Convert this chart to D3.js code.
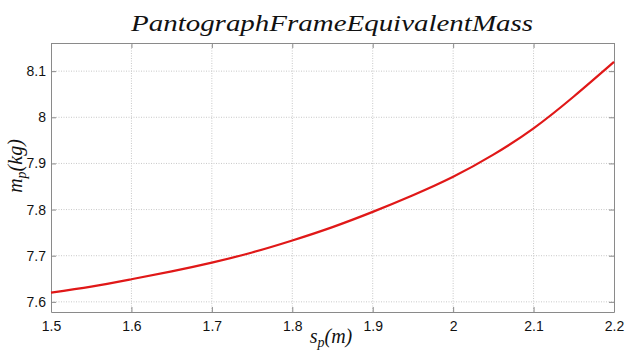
<!DOCTYPE html>
<html lang="en">
<head>
    <meta charset="UTF-8">
    <script src="https://cdn.jsdelivr.net/npm/d3@7"></script>
    <title>Pantograph Frame Equivalent Mass</title>
    <style>
        body { margin: 0; background: #fff; }
        .tick text { font-family: "Liberation Sans", Arial, sans-serif; font-size: 14px; fill: #111; }
        .latex { font-family: "Liberation Serif", "Times New Roman", serif; font-style: italic; fill: #111; }
    </style>
</head>
<body>
    <div id="chart"></div>
    <script>
        // values
        const spValues = [1.50, 1.55, 1.60, 1.65, 1.70, 1.75, 1.80, 1.85, 1.90, 1.95, 2.00, 2.05, 2.10, 2.15, 2.20];
        const mpValues = [7.620, 7.633, 7.649, 7.666, 7.685, 7.707, 7.733, 7.762, 7.795, 7.831, 7.871, 7.919, 7.976, 8.045, 8.120];
        const xTicks = [1.5, 1.6, 1.7, 1.8, 1.9, 2.0, 2.1, 2.2];
        const yTicks = [7.6, 7.7, 7.8, 7.9, 8.0, 8.1];

        const width = 625, height = 351;
        const margin = { top: 43, right: 11, bottom: 39, left: 51 };
        const innerW = width - margin.left - margin.right;
        const innerH = height - margin.top - margin.bottom;

        const svg = d3.select("#chart").append("svg")
            .attr("width", width)
            .attr("height", height);

        const g = svg.append("g")
            .attr("transform", `translate(${margin.left},${margin.top})`);

        const x = d3.scaleLinear().domain([1.5, 2.2]).range([0, innerW]);
        const y = d3.scaleLinear().domain([7.578, 8.161]).range([innerH, 0]);

        // grid
        g.append("g").selectAll("line")
            .data(xTicks.slice(1, -1))
            .enter().append("line")
            .attr("x1", d => x(d)).attr("x2", d => x(d))
            .attr("y1", 0).attr("y2", innerH)
            .attr("stroke", "#c8c8c8").attr("stroke-dasharray", "1,1.5");
        g.append("g").selectAll("line")
            .data(yTicks)
            .enter().append("line")
            .attr("x1", 0).attr("x2", innerW)
            .attr("y1", d => y(d)).attr("y2", d => y(d))
            .attr("stroke", "#c8c8c8").attr("stroke-dasharray", "1,1.5");

        // axes (ticks inside like matlab)
        const fmt = d => d3.format("")(+d.toFixed(1));
        const xAxis = g.append("g").attr("transform", `translate(0,${innerH})`)
            .call(d3.axisBottom(x).tickValues(xTicks).tickFormat(fmt).tickSizeInner(-5).tickSizeOuter(0).tickPadding(9));
        const yAxis = g.append("g")
            .call(d3.axisLeft(y).tickValues(yTicks).tickFormat(fmt).tickSizeInner(-5).tickSizeOuter(0).tickPadding(5));
        const xTop = g.append("g")
            .call(d3.axisTop(x).tickValues(xTicks).tickFormat("").tickSizeInner(-5).tickSizeOuter(0));
        const yRight = g.append("g").attr("transform", `translate(${innerW},0)`)
            .call(d3.axisRight(y).tickValues(yTicks).tickFormat("").tickSizeInner(-5).tickSizeOuter(0));

        [xAxis, yAxis, xTop, yRight].forEach(a => {
            a.select(".domain").attr("stroke", "#8a8a8a");
            a.selectAll(".tick line").attr("stroke", "#8a8a8a");
        });

        // curve
        const line = d3.line()
            .x((d, i) => x(spValues[i]))
            .y(d => y(d))
            .curve(d3.curveNatural);

        g.append("path")
            .datum(mpValues)
            .attr("d", line)
            .attr("fill", "none")
            .attr("stroke", "#e01818")
            .attr("stroke-width", 2.2);

        // title
        svg.append("text")
            .attr("class", "latex")
            .attr("x", 332).attr("y", 31)
            .attr("text-anchor", "middle")
            .attr("font-size", 24)
            .attr("textLength", 402)
            .attr("lengthAdjust", "spacingAndGlyphs")
            .text("PantographFrameEquivalentMass");

        // x label
        const xl = svg.append("text")
            .attr("class", "latex")
            .attr("x", 331).attr("y", 343)
            .attr("text-anchor", "middle")
            .attr("font-size", 20);
        xl.append("tspan").text("s");
        xl.append("tspan").attr("font-size", 14).attr("dy", 4).text("p");
        xl.append("tspan").attr("dy", -4).text("(m)");

        // y label
        const yl = svg.append("text")
            .attr("class", "latex")
            .attr("transform", "translate(22,166) rotate(-90)")
            .attr("text-anchor", "middle")
            .attr("font-size", 20);
        yl.append("tspan").text("m");
        yl.append("tspan").attr("font-size", 14).attr("dy", 4).text("p");
        yl.append("tspan").attr("dy", -4).text("(kg)");
    </script>
</body>
</html>
